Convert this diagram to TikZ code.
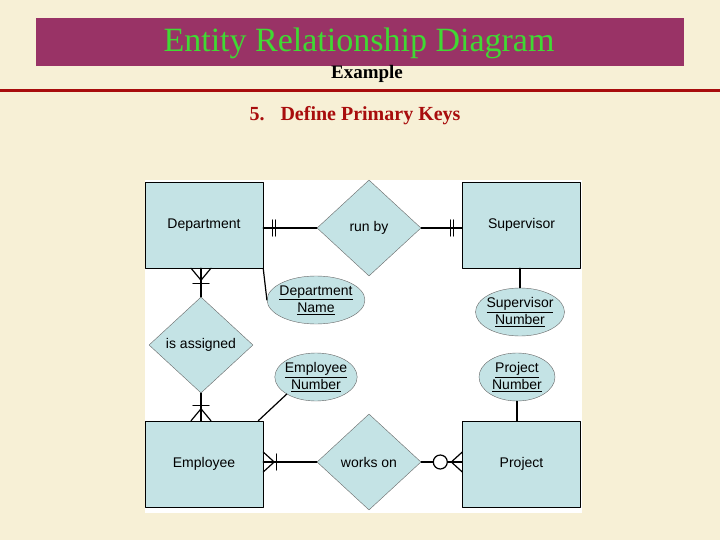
\documentclass[tikz,border=0pt]{standalone}
\usepackage{fontspec}
\setmainfont{Liberation Serif}
\newfontfamily\erfont{Liberation Sans}
\usetikzlibrary{shapes.geometric,calc}
\definecolor{cream}{rgb}{0.97,0.94,0.84}
\definecolor{banner}{rgb}{0.60,0.20,0.40}
\definecolor{titlegreen}{rgb}{0.25,0.85,0.20}
\definecolor{darkred}{rgb}{0.66,0.05,0.05}
\definecolor{erblue}{rgb}{0.77,0.89,0.90}
\tikzset{
  entity/.style={draw=black,fill=erblue,minimum width=118pt,minimum height=86pt,inner sep=0pt,font=\erfont\fontsize{14}{16}\selectfont},
  relation/.style={diamond,draw=black!60,fill=erblue,minimum width=104pt,minimum height=96pt,inner sep=0pt,aspect=1.08,font=\erfont\fontsize{14}{16}\selectfont},
  keyattr/.style={ellipse,draw=black!60,fill=erblue,minimum width=76pt,minimum height=48pt,inner sep=-2pt,align=center,font=\erfont\fontsize{14}{17}\selectfont},
  link/.style={line width=1.2pt},
}
\begin{document}
\begin{tikzpicture}[x=1pt,y=-1pt,line cap=round,line join=round]
\useasboundingbox (0,0) rectangle (720,540);
\fill [cream] (0,0) rectangle (720,540);
% title block
\fill [banner] (36,18) rectangle (684,66);
\node (title) [text=titlegreen,font=\fontsize{34}{36}\selectfont] at (359,43) {Entity Relationship Diagram};
\node (sub) [font=\bfseries\fontsize{19}{21}\selectfont] at (367,74) {Example};
\fill [darkred] (0,89.5) rectangle (720,92.5);
\node (step5) [text=darkred,anchor=west,font=\bfseries\fontsize{20}{22}\selectfont] at (246,116) {5.\hspace{16pt}Define Primary Keys};
% diagram
\fill [white] (145,180) rectangle (582,513);
\node (dept) [entity] at (204,225) {Department};
\node (sup) [entity] at (521.5,225) {Supervisor};
\node (emp) [entity] at (204,464) {Employee};
\node (proj) [entity] at (521.5,464) {Project};
\node (runby) [relation] at (369,228) {run by};
\node (works) [relation] at (369,462) {works on};
\node (assign) [relation] at (201,345) {is assigned};
\node (dname) [keyattr] at (316,300) {\underline{Department}\\\underline{Name}};
\node (snum) [keyattr] at (520,312) {\underline{Supervisor}\\\underline{Number}};
\node (enum) [keyattr] at (316,377) {\underline{Employee}\\\underline{Number}};
\node (pnum) [keyattr] at (517,377) {\underline{Project}\\\underline{Number}};
% connectors
\draw [link] (dept.east |- runby.west) -- (runby.west);
\draw [link] (runby.east) -- (sup.west |- runby.east);
\draw [link] (assign.north) -- (assign.north |- dept.south);
\draw [link] (assign.south) -- (assign.south |- emp.north);
\draw [link] (emp.east |- works.west) -- (works.west);
\draw [link] (works.east) -- (works.east -| proj.west);
\draw [link] (dept.south east) -- (dname.west);
\draw [link] (emp.north east) ++(-5,0) coordinate (ec) -- (enum.south west);
\draw [link] (sup.south -| snum.north) -- (snum.north);
\draw [link] (pnum.south) -- (pnum.south |- proj.north);
% cardinality marks
\draw [link] ($(dept.east |- runby.west)+(9,-8)$) -- +(0,16);
\draw [link] ($(dept.east |- runby.west)+(12,-8)$) -- +(0,16);
\draw [link] ($(sup.west |- runby.east)+(-9,-8)$) -- +(0,16);
\draw [link] ($(sup.west |- runby.east)+(-12,-8)$) -- +(0,16);
\draw [link] ($(assign.north |- dept.south)+(-8,15)$) -- +(16,0);
\draw [link] ($(assign.north |- dept.south)+(0,12)$) -- +(-10,-12) ($(assign.north |- dept.south)+(0,12)$) -- +(10,-12);
\draw [link] ($(assign.south |- emp.north)+(-8,-15)$) -- +(16,0);
\draw [link] ($(assign.south |- emp.north)+(0,-12)$) -- +(-10,12) ($(assign.south |- emp.north)+(0,-12)$) -- +(10,12);
\draw [link] ($(emp.east |- works.west)+(13,-8)$) -- +(0,16);
\draw [link] ($(emp.east |- works.west)+(11,0)$) -- +(-11,-10) ($(emp.east |- works.west)+(11,0)$) -- +(-11,10);
\draw [link,fill=white] ($(works.east -| proj.west)+(-22,0)$) circle (7pt);
\draw [link] ($(works.east -| proj.west)+(-11,0)$) -- +(11,-10) ($(works.east -| proj.west)+(-11,0)$) -- +(11,10);
\end{tikzpicture}
\end{document}
